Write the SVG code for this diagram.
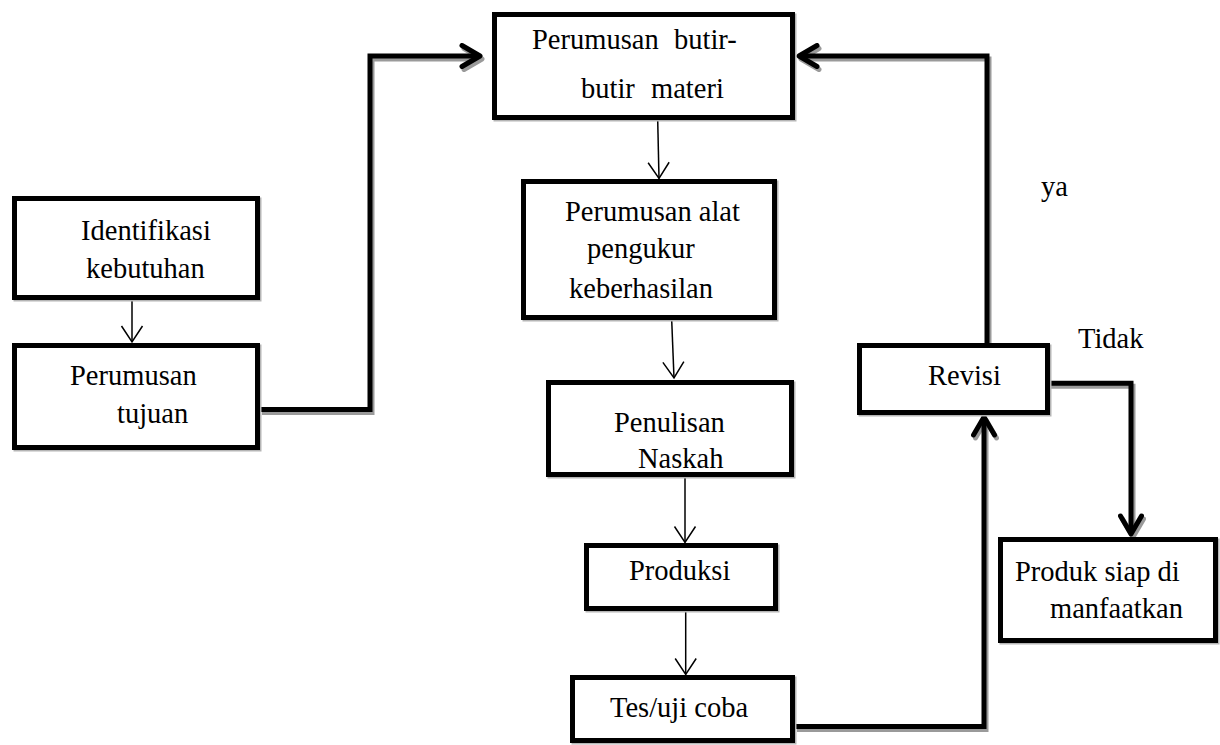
<svg xmlns="http://www.w3.org/2000/svg" width="1220" height="745" viewBox="0 0 1220 745">
<style>
.box{fill:#fff;stroke:#000;stroke-width:5}
.bsh{fill:none;stroke:#b5b5b5;stroke-width:5}
.t{font-family:"Liberation Serif","Times New Roman",serif;font-size:28.5px;fill:#000}
.thick{fill:none;stroke:#000;stroke-width:5;stroke-linejoin:miter}
.shadow{fill:none;stroke:#9a9a9a;stroke-width:5}
.thin{fill:none;stroke:#000;stroke-width:1.5}
</style>
<defs>
<marker id="mThick" markerUnits="userSpaceOnUse" viewBox="0 0 26 26" markerWidth="26" markerHeight="26" refX="21" refY="13" orient="auto">
<path d="M3,2.5 L21,13 L3,23.5" fill="none" stroke="#000" stroke-width="5" stroke-linecap="round" stroke-linejoin="round"/>
</marker>
<marker id="mShadow" markerUnits="userSpaceOnUse" viewBox="0 0 26 26" markerWidth="26" markerHeight="26" refX="21" refY="13" orient="auto">
<path d="M3,2.5 L21,13 L3,23.5" fill="none" stroke="#9a9a9a" stroke-width="5" stroke-linecap="round" stroke-linejoin="round"/>
</marker>
<marker id="mThin" markerUnits="userSpaceOnUse" viewBox="0 0 20 24" markerWidth="20" markerHeight="24" refX="17" refY="12" orient="auto">
<path d="M1,1.5 L17,12 L1,22.5" fill="none" stroke="#000" stroke-width="1.5"/>
</marker>
</defs>
<rect width="1220" height="745" fill="#fff"/>

<g id="connectors">
<g id="shadows">
<path class="shadow" d="M262,412.5 H372 V59 H482" marker-end="url(#mShadow)"/>
<path class="shadow" d="M989,348 V59 H801" marker-end="url(#mShadow)"/>
<path class="shadow" d="M797,729.5 H986 V420" marker-end="url(#mShadow)"/>
<path class="shadow" d="M1050,386.3 H1133 V537" marker-end="url(#mShadow)"/>
</g>
<path class="thick" d="M260,409.5 H370 V56 H480" marker-end="url(#mThick)"/>
<path class="thick" d="M987,345 V56 H799" marker-end="url(#mThick)"/>
<path class="thick" d="M795,726.5 H984 V417" marker-end="url(#mThick)"/>
<path class="thick" d="M1048,383.3 H1131 V534" marker-end="url(#mThick)"/>
<path class="thin" d="M132,300 L132,342" marker-end="url(#mThin)"/>
<path class="thin" d="M657.7,120 L659,178.5" marker-end="url(#mThin)"/>
<path class="thin" d="M671.7,320 L674,378" marker-end="url(#mThin)"/>
<path class="thin" d="M685,477 L685,542.5" marker-end="url(#mThin)"/>
<path class="thin" d="M685.7,611 L685.7,674.5" marker-end="url(#mThin)"/>
</g>

<g id="identifikasi">
<rect class="bsh" x="16" y="200" width="243" height="99"/>
<rect class="box" x="14.5" y="198.5" width="243" height="99"/>
<text class="t" x="81" y="240">Identifikasi</text>
<text class="t" x="86" y="278">kebutuhan</text>
</g>

<g id="tujuan">
<rect class="bsh" x="16" y="347" width="243" height="102"/>
<rect class="box" x="14.5" y="345.5" width="243" height="102"/>
<text class="t" x="70" y="385">Perumusan</text>
<text class="t" x="117" y="423">tujuan</text>
</g>

<g id="butir">
<rect class="bsh" x="496" y="16" width="298" height="103"/>
<rect class="box" x="494.5" y="14.5" width="298" height="103"/>
<text class="t" y="49"><tspan x="532">Perumusan</tspan> <tspan x="674">butir-</tspan></text>
<text class="t" y="98"><tspan x="581">butir</tspan> <tspan x="651">materi</tspan></text>
</g>

<g id="alat">
<rect class="bsh" x="525" y="183" width="251" height="136"/>
<rect class="box" x="523.5" y="181.5" width="251" height="136"/>
<text class="t" x="565" y="221">Perumusan alat</text>
<text class="t" x="587" y="258">pengukur</text>
<text class="t" x="569" y="298">keberhasilan</text>
</g>

<g id="penulisan">
<rect class="bsh" x="550" y="384" width="243" height="92"/>
<rect class="box" x="548.5" y="382.5" width="243" height="92"/>
<text class="t" x="614" y="432">Penulisan</text>
<text class="t" x="638" y="468">Naskah</text>
</g>

<g id="produksi">
<rect class="bsh" x="588" y="547" width="189" height="63"/>
<rect class="box" x="586.5" y="545.5" width="189" height="63"/>
<text class="t" x="629" y="580">Produksi</text>
</g>

<g id="tes">
<rect class="bsh" x="574" y="679" width="220" height="63"/>
<rect class="box" x="572.5" y="677.5" width="220" height="63"/>
<text class="t" x="610" y="717">Tes/uji coba</text>
</g>

<g id="revisi">
<rect class="bsh" x="861" y="347" width="188" height="67"/>
<rect class="box" x="859.5" y="345.5" width="188" height="67"/>
<text class="t" x="928" y="385">Revisi</text>
</g>

<g id="produk">
<rect class="bsh" x="1002" y="541" width="215" height="101"/>
<rect class="box" x="1000.5" y="539.5" width="215" height="101"/>
<text class="t" x="1015" y="581">Produk siap di</text>
<text class="t" x="1050" y="618">manfaatkan</text>
</g>

<g id="labels">
<text class="t" x="1041" y="196">ya</text>
<text class="t" x="1078" y="348">Tidak</text>
</g>
</svg>
